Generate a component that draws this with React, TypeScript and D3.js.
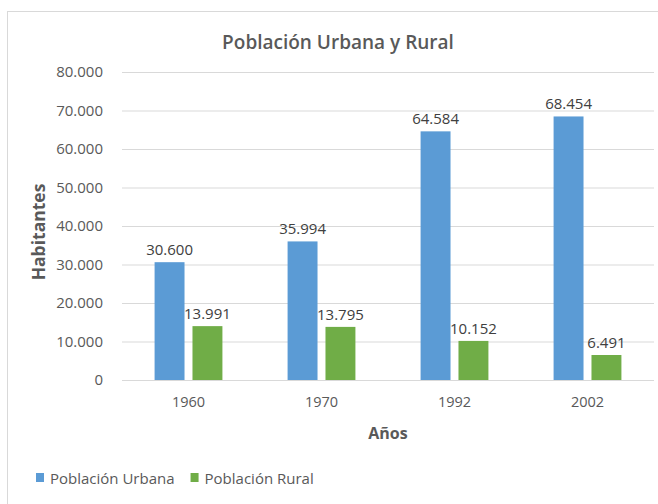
import React from "react";
import * as d3 from "d3";

const years = ["1960", "1970", "1992", "2002"];
const series = ["Población Urbana", "Población Rural"];
const urbana = [30600, 35994, 64584, 68454];
const rural = [13991, 13795, 10152, 6491];
const yTicks = [0, 10000, 20000, 30000, 40000, 50000, 60000, 70000, 80000];
const colors = ["#5B9BD5", "#70AD47"];

const W = 658;
const H = 504;
const FONT = "'Open Sans', sans-serif";

const fmt = (v: number) =>
  v === 0 ? "0" : d3.format(",")(v).replace(/,/g, ".");

const App = () => {
  const svgRef = React.useRef<SVGSVGElement>(null);

  React.useEffect(() => {
    const svg = d3.select(svgRef.current);
    svg.selectAll("*").remove();

    const left = 122, right = 654, top = 72, bottom = 380;

    // marco del gráfico
    svg.append("rect")
      .attr("x", 7.5).attr("y", 11.5)
      .attr("width", 680).attr("height", 520)
      .attr("fill", "white").attr("stroke", "#D9D9D9");

    const x0 = d3.scaleBand().domain(years).range([left, right])
      .paddingInner(0.49).paddingOuter(0.245);
    const x1 = d3.scaleBand().domain(series).range([0, x0.bandwidth()])
      .paddingInner(0.21);
    const y = d3.scaleLinear().domain([0, 80000]).range([bottom, top]);

    // grilla + eje y
    const yAxis = d3.axisLeft(y).tickValues(yTicks)
      .tickSize(-(right - left)).tickPadding(19).tickFormat((d) => fmt(+d));
    const yg = svg.append("g").attr("transform", `translate(${left},0)`).call(yAxis);
    yg.select(".domain").remove();
    yg.selectAll("line").attr("stroke", "#D9D9D9").attr("stroke-width", 1);
    yg.selectAll("text").attr("fill", "#595959").attr("font-size", 15)
      .attr("font-family", FONT);

    const xAxis = d3.axisBottom(x0).tickSize(0).tickPadding(17);
    const xg = svg.append("g").attr("transform", `translate(0,${bottom})`).call(xAxis);
    xg.select(".domain").remove();
    xg.selectAll("text").attr("fill", "#595959").attr("font-size", 14.5)
      .attr("font-family", FONT);

    const rows = years.map((yr, i) => ({ yr, vals: [urbana[i], rural[i]] }));

    const groups = svg.append("g").selectAll("g").data(rows).enter()
      .append("g").attr("transform", (d) => `translate(${x0(d.yr)},0)`);

    groups.selectAll("rect")
      .data((d) => d.vals.map((v, j) => ({ s: series[j], v, c: colors[j] })))
      .enter().append("rect")
      .attr("x", (d) => x1(d.s)!)
      .attr("y", (d) => y(d.v))
      .attr("width", x1.bandwidth())
      .attr("height", (d) => bottom - y(d.v))
      .attr("fill", (d) => d.c);

    groups.selectAll("text")
      .data((d) => d.vals.map((v, j) => ({ s: series[j], v })))
      .enter().append("text")
      .attr("x", (d) => x1(d.s)! + x1.bandwidth() / 2)
      .attr("y", (d) => y(d.v) - 7)
      .attr("text-anchor", "middle")
      .attr("fill", "#404040").attr("font-size", 15).attr("font-family", FONT)
      .text((d) => fmt(d.v));

    // título
    svg.append("text").attr("x", 338).attr("y", 49).attr("text-anchor", "middle")
      .attr("fill", "#595959").attr("font-size", 19).attr("font-weight", 600)
      .attr("font-family", FONT).text("Población Urbana y Rural");

    // títulos de ejes
    svg.append("text").attr("x", (left + right) / 2).attr("y", 439)
      .attr("text-anchor", "middle").attr("fill", "#595959")
      .attr("font-size", 16).attr("font-weight", 700).attr("font-family", FONT)
      .text("Años");
    svg.append("text")
      .attr("transform", `translate(45,${(top + bottom) / 2 + 6}) rotate(-90)`)
      .attr("text-anchor", "middle").attr("fill", "#595959")
      .attr("font-size", 17.5).attr("font-weight", 700).attr("font-family", FONT)
      .text("Habitantes");

    // leyenda
    const lg = svg.append("g").attr("transform", "translate(36,478)");
    let lx = 0;
    series.forEach((s, i) => {
      lg.append("rect").attr("x", lx).attr("y", -5).attr("width", 8).attr("height", 9)
        .attr("fill", colors[i]);
      const t = lg.append("text").attr("x", lx + 14).attr("y", 5.5)
        .attr("fill", "#595959").attr("font-size", 15).attr("font-family", FONT)
        .text(s);
      const w = (t.node() as SVGTextElement).getComputedTextLength();
      lx += 14 + w + 16;
    });
  }, []);

  return (
    <svg ref={svgRef} width={W} height={H} style={{ position: "absolute", left: 0, top: 0 }} />
  );
};

export default App;
